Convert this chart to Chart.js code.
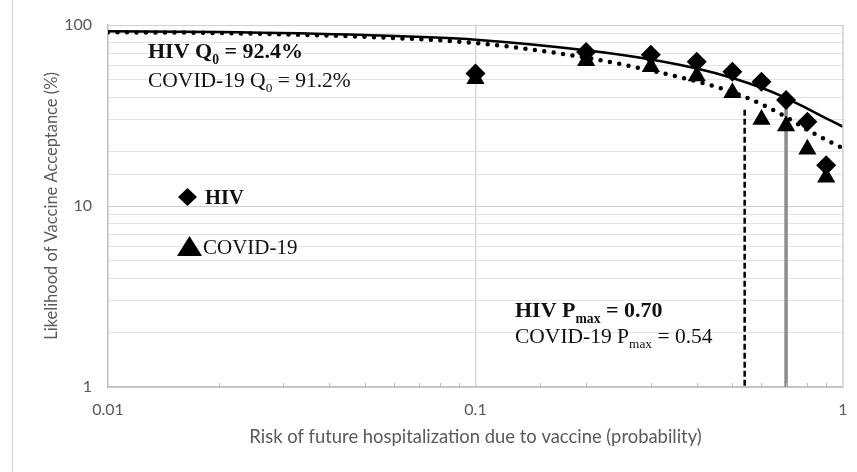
<!DOCTYPE html>
<html>
<head>
<meta charset="utf-8">
<script src="https://cdn.jsdelivr.net/npm/chart.js@4.4.1/dist/chart.umd.min.js"></script>
<style>
html,body{margin:0;padding:0;background:#ffffff;}
#wrap{width:857px;height:472px;position:relative;}
</style>
</head>
<body>
<div id="wrap"><canvas id="c" width="857" height="472"></canvas></div>
<script>
// ---- data ----
const probabilities = [0.1, 0.2, 0.3, 0.4, 0.5, 0.6, 0.7, 0.8, 0.9];
const hivAcceptance = [54.0, 70.9, 68.5, 62.7, 55.2, 48.6, 38.5, 29.2, 16.8];
const covidAcceptance = [50.5, 63.5, 58.8, 52.3, 42.3, 30.1, 27.7, 20.6, 14.4];

const curveProbabilities = [0.01, 0.02, 0.05, 0.1, 0.2, 0.3, 0.4, 0.5, 0.6, 0.7, 0.8, 0.9, 1.0];
const hivCurve = [92.4, 91.5, 88.0, 83.0, 72.5, 64.5, 57.5, 51.0, 45.0, 39.5, 34.5, 30.5, 27.4];
const covidCurve = [91.2, 90.3, 86.0, 79.5, 66.0, 56.0, 48.8, 42.6, 36.5, 31.0, 26.3, 23.2, 20.8];

const hivPmax = 0.70;
const covidPmax = 0.54;
const hivPmaxTop = 39.0;
const covidPmaxTop = 34.0;
const axisFloor = 1;

const xTickLabels = ['0.01', '0.1', '1'];
const yTickLabels = ['1', '10', '100'];
const seriesNames = ['HIV', 'COVID-19'];
const xTitle = 'Risk of future hospitalization due to vaccine (probability)';
const yTitle = 'Likelihood of Vaccine Acceptance (%)';

// ---- build library structures ----
const toPts = (xs, ys) => xs.map((x, i) => ({x: x, y: ys[i]}));
function isDecade(v) {
  const l = Math.log10(v);
  return Math.abs(l - Math.round(l)) < 1e-6;
}

const extras = {
  id: 'extras',
  afterDraw(chart) {
    const ctx = chart.ctx;
    const a = chart.chartArea;
    const xs = chart.scales.x;
    ctx.save();
    // outer left border line
    ctx.strokeStyle = '#d9d9d9';
    ctx.lineWidth = 1.5;
    ctx.beginPath(); ctx.moveTo(12.5, 0); ctx.lineTo(12.5, 472); ctx.stroke();
    // right plot border
    ctx.strokeStyle = '#cfcfcf';
    ctx.beginPath(); ctx.moveTo(a.right, a.top); ctx.lineTo(a.right, a.bottom); ctx.stroke();
    // minor tick marks on x axis
    ctx.strokeStyle = '#bfbfbf';
    ctx.lineWidth = 1;
    xs.ticks.forEach(t => {
      if (isDecade(t.value)) return;
      const px = Math.round(xs.getPixelForValue(t.value)) + 0.5;
      ctx.beginPath(); ctx.moveTo(px, a.bottom); ctx.lineTo(px, a.bottom - 4); ctx.stroke();
    });

    // annotation texts
    ctx.fillStyle = '#111111';
    ctx.textBaseline = 'alphabetic';
    ctx.textAlign = 'left';
    const fam = '"Liberation Serif", "Times New Roman", serif';
    function drawParts(x, y, size, bold, parts) {
      let cx = x;
      parts.forEach(p => {
        const s = p.sub ? size * 0.62 : size;
        ctx.font = (bold ? 'bold ' : '') + s + 'px ' + fam;
        ctx.fillText(p.t, cx, p.sub ? y + size * 0.25 : y);
        cx += ctx.measureText(p.t).width;
      });
    }
    drawParts(148, 58, 22, true, [{t: 'HIV Q'}, {t: '0', sub: true}, {t: ' = 92.4%'}]);
    drawParts(148, 87, 21.5, false, [{t: 'COVID-19 Q'}, {t: '0', sub: true}, {t: ' = 91.2%'}]);
    drawParts(515, 317, 22, true, [{t: 'HIV P'}, {t: 'max', sub: true}, {t: ' = 0.70'}]);
    drawParts(515, 343, 21.5, false, [{t: 'COVID-19 P'}, {t: 'max', sub: true}, {t: ' = 0.54'}]);

    // legend
    ctx.fillStyle = '#000000';
    ctx.beginPath();
    ctx.moveTo(187.5, 188); ctx.lineTo(197, 197); ctx.lineTo(187.5, 206); ctx.lineTo(178, 197); ctx.closePath();
    ctx.fill();
    ctx.beginPath();
    ctx.moveTo(189.5, 236); ctx.lineTo(202, 256); ctx.lineTo(177, 256); ctx.closePath();
    ctx.fill();
    ctx.fillStyle = '#111111';
    ctx.font = 'bold 20.5px ' + fam;
    ctx.fillText(seriesNames[0], 205, 204);
    ctx.font = '21px ' + fam;
    ctx.fillText(seriesNames[1], 203, 254);
    ctx.restore();
  }
};

new Chart(document.getElementById('c'), {
  type: 'scatter',
  data: {
    datasets: [
      {
        label: seriesNames[1],
        data: toPts(probabilities, covidAcceptance),
        pointStyle: 'triangle', pointRadius: 10.5,
        backgroundColor: '#000000', borderColor: '#000000', borderWidth: 0,
        showLine: false
      },
      {
        label: seriesNames[0],
        data: toPts(probabilities, hivAcceptance),
        pointStyle: 'rectRot', pointRadius: 10,
        backgroundColor: '#000000', borderColor: '#000000', borderWidth: 0,
        showLine: false
      },
      {
        label: 'HIV fit',
        data: toPts(curveProbabilities, hivCurve),
        showLine: true, pointRadius: 0, borderColor: '#000000', borderWidth: 2.5,
        cubicInterpolationMode: 'monotone', fill: false
      },
      {
        label: 'COVID-19 fit',
        data: toPts(curveProbabilities, covidCurve),
        showLine: true, pointRadius: 0, borderColor: '#000000', borderWidth: 4.5,
        borderDash: [0, 9.5], borderCapStyle: 'round',
        cubicInterpolationMode: 'monotone', fill: false
      },
      {
        label: 'HIV Pmax',
        data: [{x: hivPmax, y: hivPmaxTop}, {x: hivPmax, y: axisFloor}],
        showLine: true, pointRadius: 0, borderColor: '#8c8c8c', borderWidth: 3.5
      },
      {
        label: 'COVID-19 Pmax',
        data: [{x: covidPmax, y: covidPmaxTop}, {x: covidPmax, y: axisFloor}],
        showLine: true, pointRadius: 0, borderColor: '#000000', borderWidth: 2.5,
        borderDash: [6, 3], borderCapStyle: 'butt'
      }
    ]
  },
  options: {
    responsive: false,
    animation: false,
    devicePixelRatio: 1,
    layout: {padding: {left: 38, right: 14, top: 25, bottom: 20}},
    plugins: {legend: {display: false}, tooltip: {enabled: false}},
    scales: {
      x: {
        type: 'logarithmic', min: 0.01, max: 1,
        afterFit: s => { s.height = 65; s.paddingLeft = 0; s.paddingRight = 0; },
        grid: {
          drawTicks: false, lineWidth: 1.5,
          color: c => (c.tick && Math.abs(c.tick.value - 0.1) < 1e-9) ? '#d9d9d9' : 'rgba(0,0,0,0)'
        },
        border: {color: '#bfbfbf', width: 1.5},
        ticks: {
          autoSkip: false, maxRotation: 0, padding: 13, color: '#595959',
          font: {family: 'Lato', size: 16},
          callback: v => isDecade(v) ? xTickLabels[Math.round(Math.log10(v)) + 2] : ''
        },
        title: {display: true, text: xTitle, color: '#595959', font: {family: 'Lato', size: 18.4}, padding: {top: 4, bottom: 4}}
      },
      y: {
        type: 'logarithmic', min: 1, max: 100,
        afterFit: s => { s.width = 70; s.paddingTop = 0; s.paddingBottom = 0; },
        grid: {
          drawTicks: false, lineWidth: 1,
          color: c => (c.tick && isDecade(c.tick.value)) ? '#d0d0d0' : '#e3e3e3'
        },
        border: {color: '#bfbfbf', width: 1.5},
        ticks: {
          autoSkip: false, padding: 16, color: '#595959',
          font: {family: 'Lato', size: 16},
          callback: v => isDecade(v) ? yTickLabels[Math.round(Math.log10(v))] : ''
        },
        title: {display: true, text: yTitle, color: '#595959', font: {family: 'Lato', size: 16.5}, padding: {top: 4, bottom: 4}}
      }
    }
  },
  plugins: [extras]
});
</script>
</body>
</html>
